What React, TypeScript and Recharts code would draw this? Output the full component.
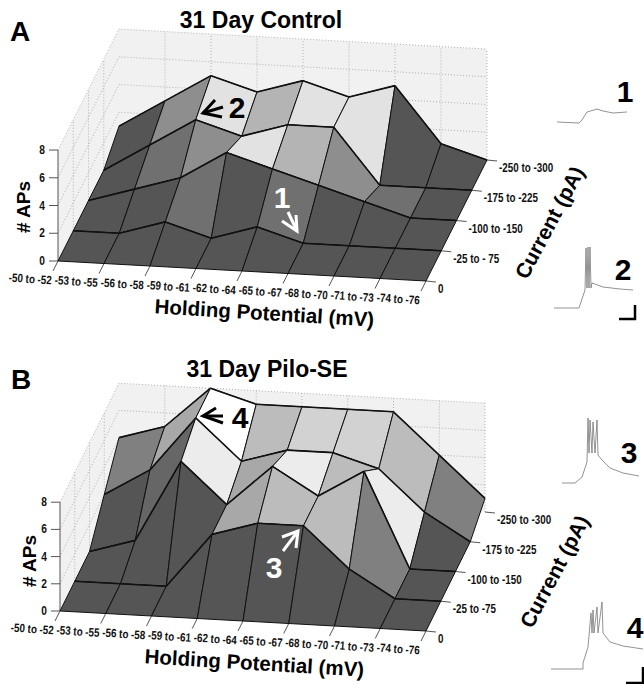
import { ScatterChart, Scatter, XAxis, YAxis } from "recharts";

const holdingLabels = ["-50 to -52", "-53 to -55", "-56 to -58", "-59 to -61", "-62 to -64", "-65 to -67", "-68 to -70", "-71 to -73", "-74 to -76"];
const currentLabelsA = ["0", "-25 to - 75", "-100 to -150", "-175 to -225", "-250 to -300"];
const currentLabelsB = ["0", "-25 to -75", "-100 to -150", "-175 to -225", "-250 to -300"];
const apTicks = [0, 2, 4, 6, 8];

// rows run from 0 pA (front) to -250 to -300 pA (back), columns follow holdingLabels
const apsControl = [
  [0, 0, 0, 0, 0, 0, 0, 0, 0],
  [0, 0, 1, 0, 1, 0, 0, 0, 0],
  [0, 1, 2, 4, 3, 2, 1, 0, 0],
  [0, 2, 4, 3, 4, 4, 0, 0, 0],
  [1, 3, 5, 4, 5, 4, 5, 1, 0],
];
const apsPilo = [
  [0, 0, 0, 0, 0, 0, 0, 0, 0],
  [0, 0, 0, 4, 5, 5, 2, 0, 0],
  [0, 1, 7, 4, 7, 5, 7, 0, 0],
  [2, 4, 8, 5, 6, 6, 5, 2, 0],
  [4, 5, 8, 7, 7, 7, 7, 4, 1],
];

// grey level for each AP count, each panel scales to its own maximum
const shadesControl = ["#555555", "#707070", "#8e8e8e", "#b4b4b4", "#e2e2e2", "#f2f2f2"];
const shadesPilo = ["#555555", "#666666", "#808080", "#969696", "#a8a8a8", "#bcbcbc", "#d2d2d2", "#ececec", "#ffffff"];

// sample traces, in page pixels
const trace1 = [[557, 122], [579, 123], [582, 120], [587, 112], [597, 109], [603, 111], [613, 113], [627, 112]];
const trace2 = [[554, 308], [579, 308], [581, 302], [585, 290], [586, 248], [587, 288], [588, 247], [589, 288], [590, 247], [591, 288], [592, 283], [603, 287], [620, 289], [633, 290]];
const trace3 = [[562, 483], [575, 483], [582, 477], [587, 462], [588, 418], [589, 453], [590, 420], [592, 453], [593, 422], [595, 453], [597, 420], [598, 455], [602, 460], [610, 468], [623, 473], [639, 476]];
const trace4 = [[551, 669], [583, 669], [583, 663], [588, 647], [591, 613], [592, 633], [593, 610], [594, 633], [597, 607], [598, 633], [602, 602], [603, 633], [610, 642], [623, 646], [643, 649]];
const scaleBarA = [[619, 319], [635, 319], [635, 305]];
const scaleBarB = [[626, 683], [643, 683], [643, 667]];

const arrows = [
  { color: "#000", shaft: [[223, 107], [203, 113]], head: [[215, 100], [203, 113], [222, 117]] },
  { color: "#fff", shaft: [[288, 212], [297, 231]], head: [[282, 221], [297, 231], [296, 215]] },
  { color: "#000", shaft: [[223, 416], [203, 416]], head: [[216, 408], [203, 416], [223, 423]] },
  { color: "#fff", shaft: [[283, 551], [298, 531]], head: [[282, 537], [298, 531], [296, 548]] },
];

type Panel = {
  ox: number; oy: number;
  ix: number; iy: number;
  jx: number; jy: number;
  zs: number;
  aps: number[][];
  shades: string[];
  currentLabels: string[];
};

const panelA: Panel = { ox: 58, oy: 261, ix: 46, iy: 2.5, jx: 15.25, jy: -30.25, zs: 13.87, aps: apsControl, shades: shadesControl, currentLabels: currentLabelsA };
const panelB: Panel = { ox: 60, oy: 611, ix: 45.75, iy: 2.5, jx: 14.75, jy: -29.75, zs: 13.6, aps: apsPilo, shades: shadesPilo, currentLabels: currentLabelsB };

const NoShape = () => null;
const SANS = "'Liberation Sans', Arial, sans-serif";

function poly(key: string, pts: number[][], style: Record<string, unknown>) {
  return (
    <Scatter
      key={key}
      data={pts.map(([x, y]) => ({ x, y }))}
      line={style}
      shape={NoShape}
      legendType="none"
      isAnimationActive={false}
    />
  );
}

function project(p: Panel, i: number, j: number, z: number) {
  return [p.ox + p.ix * i + p.jx * j, p.oy + p.iy * i + p.jy * j - p.zs * z];
}

function walls(p: Panel, name: string) {
  const wall = { fill: "#f1f1f1", stroke: "none" };
  const dots = { stroke: "#b0b0b0", strokeWidth: 1, strokeDasharray: "1 2", fill: "none" };
  const out = [
    poly(`${name}-left`, [project(p, 0, 0, 0), project(p, 0, 4, 0), project(p, 0, 4, 8), project(p, 0, 0, 8), project(p, 0, 0, 0)], wall),
    poly(`${name}-back`, [project(p, 0, 4, 0), project(p, 8, 4, 0), project(p, 8, 4, 8), project(p, 0, 4, 8), project(p, 0, 4, 0)], wall),
  ];
  apTicks.slice(1).forEach((z) => {
    out.push(poly(`${name}-hl${z}`, [project(p, 0, 0, z), project(p, 0, 4, z), project(p, 8, 4, z)], dots));
  });
  for (let i = 1; i <= 8; i++) out.push(poly(`${name}-v${i}`, [project(p, i, 4, 0), project(p, i, 4, 8)], dots));
  for (let j = 1; j <= 3; j++) out.push(poly(`${name}-w${j}`, [project(p, 0, j, 0), project(p, 0, j, 8)], dots));
  return out;
}

function surface(p: Panel, name: string) {
  const out = [];
  const edge = { stroke: "#111", strokeWidth: 1 };
  // painter's order: back row first, and left to right along a row
  for (let j = 3; j >= 0; j--) {
    for (let i = 0; i < 8; i++) {
      const a = p.aps;
      out.push(
        poly(
          `${name}-c${i}-${j}`,
          [
            project(p, i, j, a[j][i]),
            project(p, i + 1, j, a[j][i + 1]),
            project(p, i + 1, j + 1, a[j + 1][i + 1]),
            project(p, i, j + 1, a[j + 1][i]),
            project(p, i, j, a[j][i]),
          ],
          { ...edge, fill: p.shades[a[j][i]] },
        ),
      );
      // the edges along a row read heavier than the ones across it
      out.push(poly(`${name}-r${i}-${j}`, [project(p, i, j + 1, a[j + 1][i]), project(p, i + 1, j + 1, a[j + 1][i + 1])], { stroke: "#111", strokeWidth: 1.6, fill: "none" }));
    }
  }
  return out;
}

function ticks(p: Panel, name: string) {
  const line = { stroke: "#555", strokeWidth: 1, fill: "none" };
  const out = [poly(`${name}-zaxis`, [project(p, 0, 0, 0), project(p, 0, 0, 8)], line)];
  apTicks.forEach((z) => {
    const [x, y] = project(p, 0, 0, z);
    out.push(poly(`${name}-zt${z}`, [[x, y], [x - 9, y]], line));
  });
  holdingLabels.forEach((_, i) => {
    const [x, y] = project(p, i, 0, 0);
    out.push(poly(`${name}-xt${i}`, [[x, y], [x - 5, y + 10]], line));
  });
  p.currentLabels.forEach((_, j) => {
    const [x, y] = project(p, 8, j, 0);
    out.push(poly(`${name}-yt${j}`, [[x, y], [x + 10, y + 1]], line));
  });
  return out;
}

function tickLabels(p: Panel, name: string) {
  // no narrow face is installed, so the bold sans is squeezed sideways
  const style = { fontFamily: SANS, fontWeight: 700, fontSize: 12, fill: "#111" };
  return (
    <g key={`${name}-labels`}>
      {apTicks.map((z) => {
        const [x, y] = project(p, 0, 0, z);
        return <text key={z} textAnchor="middle" transform={`translate(${x - 16} ${y + 4}) scale(0.85 1)`} {...style}>{z}</text>;
      })}
      {holdingLabels.map((l, i) => {
        const [x, y] = project(p, i, 0, 0);
        return <text key={l} textAnchor="middle" transform={`translate(${x - 28} ${y + 22}) rotate(4) scale(0.82 1)`} {...style}>{l}</text>;
      })}
      {p.currentLabels.map((l, j) => {
        const [x, y] = project(p, 8, j, 0);
        return <text key={l} transform={`translate(${x + 12} ${y + 12}) scale(0.82 1)`} {...style}>{l}</text>;
      })}
    </g>
  );
}

function Heavy(props: { x: number; y: number; size: number; fill?: string; rotate?: number; children: React.ReactNode }) {
  const { x, y, size, fill = "#000", rotate = 0, children } = props;
  return (
    <text x={x} y={y} fontFamily={SANS} fontWeight={700} fontSize={size} fill={fill} textAnchor="middle" transform={rotate ? `rotate(${rotate} ${x} ${y})` : undefined}>
      {children}
    </text>
  );
}

export default function App() {
  const traceStyle = { stroke: "#777", strokeWidth: 0.8, fill: "none" };
  const barStyle = { stroke: "#000", strokeWidth: 2.5, fill: "none" };
  return (
    <div style={{ position: "absolute", left: 0, top: 0, width: 644, height: 684, background: "#fff" }}>
      <ScatterChart width={644} height={684} margin={{ top: 0, right: 0, bottom: 0, left: 0 }}>
        <XAxis type="number" dataKey="x" domain={[0, 644]} hide />
        <YAxis type="number" dataKey="y" domain={[0, 684]} reversed hide />

        {walls(panelA, "a")}
        {ticks(panelA, "a")}
        {surface(panelA, "a")}
        {walls(panelB, "b")}
        {ticks(panelB, "b")}
        {surface(panelB, "b")}

        {poly("t1", trace1, traceStyle)}
        {poly("t2", trace2, traceStyle)}
        {poly("t3", trace3, traceStyle)}
        {poly("t4", trace4, traceStyle)}
        {poly("barA", scaleBarA, barStyle)}
        {poly("barB", scaleBarB, barStyle)}

        {arrows.flatMap((a, n) => [
          poly(`as${n}`, a.shaft, { stroke: a.color, strokeWidth: 3, fill: "none" }),
          poly(`ah${n}`, a.head, { stroke: a.color, strokeWidth: 3, fill: "none" }),
        ])}
      </ScatterChart>

      {/* series sit in their own layer, so the text goes in a sheet above the chart */}
      <svg width={644} height={684} style={{ position: "absolute", left: 0, top: 0, pointerEvents: "none" }}>
        {tickLabels(panelA, "a")}
        {tickLabels(panelB, "b")}

        <Heavy x={20} y={41} size={28}>A</Heavy>
        <Heavy x={21} y={389} size={28}>B</Heavy>
        <Heavy x={261} y={28} size={23}>31 Day Control</Heavy>
        <Heavy x={267} y={377} size={23}>31 Day Pilo-SE</Heavy>
        <Heavy x={264} y={320} size={20.5} rotate={3.5}>Holding Potential (mV)</Heavy>
        <Heavy x={254} y={670} size={20.5} rotate={3.5}>Holding Potential (mV)</Heavy>
        <Heavy x={30} y={207} size={19} rotate={-90}># APs</Heavy>
        <Heavy x={36} y={561} size={19} rotate={-90}># APs</Heavy>
        <Heavy x={556} y={226} size={21} rotate={-62}>Current (pA)</Heavy>
        <Heavy x={561} y={575} size={21} rotate={-62}>Current (pA)</Heavy>

        <Heavy x={237} y={118} size={30}>2</Heavy>
        <Heavy x={282} y={208} size={30} fill="#fff">1</Heavy>
        <Heavy x={240} y={428} size={30}>4</Heavy>
        <Heavy x={274} y={578} size={30} fill="#fff">3</Heavy>
        <Heavy x={625} y={102} size={30}>1</Heavy>
        <Heavy x={623} y={280} size={30}>2</Heavy>
        <Heavy x={629} y={463} size={30}>3</Heavy>
        <Heavy x={635} y={638} size={30}>4</Heavy>
      </svg>
    </div>
  );
}
